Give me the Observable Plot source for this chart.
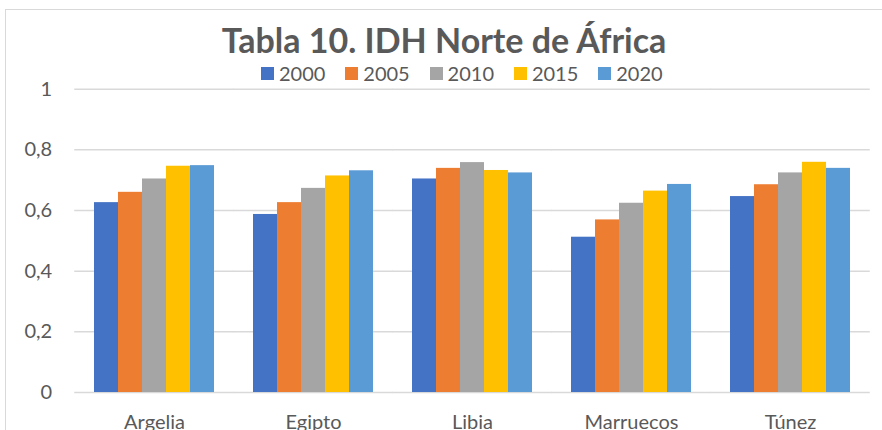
<!DOCTYPE html>
<html>
<head>
<meta charset="utf-8">
<script src="https://cdn.jsdelivr.net/npm/d3@7"></script>
<script src="https://cdn.jsdelivr.net/npm/@observablehq/plot@0.6"></script>
<style>
  html, body { margin: 0; padding: 0; background: #fff; }
  #wrap { position: relative; width: 882px; height: 430px; overflow: hidden; font-family: Lato, "Open Sans", sans-serif; color: #595959; }
  #frame { position: absolute; left: 5px; top: 9px; width: 890px; height: 440px; border: 1.5px solid #d9d9d9; box-sizing: border-box; }
  #title { position: absolute; left: 0; width: 888px; top: 19px; text-align: center; font-size: 34px; font-weight: 700; color: #595959; white-space: nowrap; }
  #legend { position: absolute; left: 261px; top: 61px; display: flex; font-size: 20px; color: #595959; }
  .item { display: flex; align-items: center; width: 84.3px; }
  .sw { width: 13px; height: 13px; margin-right: 5px; }
  #chart { position: absolute; left: 0; top: 0; }
</style>
</head>
<body>
<div id="wrap">
  <div id="frame"></div>
  <div id="chart"></div>
  <div id="title">Tabla 10. IDH Norte de África</div>
  <div id="legend"></div>
</div>
<script>
const countries = ["Argelia", "Egipto", "Libia", "Marruecos", "Túnez"];
const years = ["2000", "2005", "2010", "2015", "2020"];
const colors = ["#4472C4", "#ED7D31", "#A5A5A5", "#FFC000", "#5B9BD5"];
const v2000 = [0.626, 0.587, 0.704, 0.512, 0.646];
const v2005 = [0.660, 0.626, 0.739, 0.569, 0.685];
const v2010 = [0.704, 0.673, 0.758, 0.624, 0.724];
const v2015 = [0.746, 0.714, 0.732, 0.664, 0.759];
const v2020 = [0.748, 0.731, 0.724, 0.686, 0.739];
const yTicks = [0, 0.2, 0.4, 0.6, 0.8, 1];

const series = [v2000, v2005, v2010, v2015, v2020];
const data = [];
countries.forEach((c, i) => years.forEach((y, j) => data.push({country: c, year: y, value: series[j][i]})));

const fmt = d => String(d).replace(".", ",");

const W = 882, ML = 75, MR = 12;
const step = (W - ML - MR) / countries.length;
const ext = 0.115 * step; // half gap between groups

const chart = Plot.plot({
  width: W,
  height: 430,
  marginLeft: ML,
  marginRight: MR,
  marginTop: 88.7,
  marginBottom: 38,
  style: {fontFamily: "Lato, 'Open Sans', sans-serif", fontSize: "20px", color: "#595959", background: "transparent"},
  fx: {domain: countries, paddingInner: 0.23, paddingOuter: 0.115, label: null},
  x: {domain: years, padding: 0, axis: null},
  y: {domain: [0, 1], axis: null},
  color: {domain: years, range: colors},
  marks: [
    Plot.ruleY(yTicks, {stroke: "#d9d9d9", strokeWidth: 1.5, insetLeft: -ext - 0.5, insetRight: -ext - 0.5}),
    Plot.barY(data, {fx: "country", x: "year", y: "value", fill: "year", inset: 0}),
    Plot.axisY(yTicks, {anchor: "left", tickSize: 0, tickPadding: 23 + ext, tickFormat: fmt, fill: "#595959", fontSize: 20, label: null}),
    Plot.axisFx({anchor: "bottom", tickSize: 0, tickPadding: 22, fill: "#595959", fontSize: 20, label: null})
  ]
});
document.getElementById("chart").appendChild(chart);

const legend = document.getElementById("legend");
years.forEach((y, i) => {
  const it = document.createElement("div");
  it.className = "item";
  const sw = document.createElement("div");
  sw.className = "sw";
  sw.style.background = colors[i];
  const t = document.createElement("span");
  t.textContent = y;
  it.appendChild(sw); it.appendChild(t);
  legend.appendChild(it);
});
</script>
</body>
</html>
